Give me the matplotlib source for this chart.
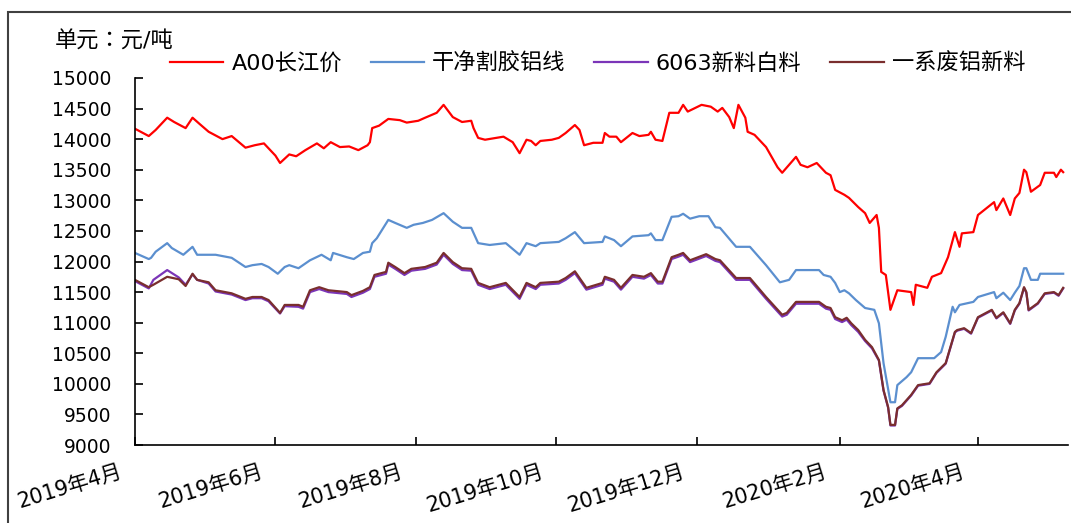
import pandas as pd
import matplotlib.pyplot as plt
from matplotlib.patches import Rectangle
from matplotlib.transforms import ScaledTranslation

plt.rcParams['font.family'] = ['DejaVu Sans', 'Noto Sans CJK SC']

# 数据：日期偏移（天，自2019-04-01起）与价格（元/吨）
start = "2019-04-01"

a00_days = [0, 6, 9, 14, 17, 22, 25, 28, 32, 38, 42, 48, 52, 56, 61, 63, 67, 70, 74, 79,
            82, 85, 89, 93, 97, 101, 102, 103, 106, 110, 115, 118, 123, 126, 131, 134, 138, 142, 146, 147,
            149, 152, 160, 164, 167, 170, 172, 174, 176, 181, 184, 187, 191, 193, 195, 199, 203, 204, 206, 209,
            211, 216, 219, 223, 224, 226, 229, 232, 236, 238, 240, 246, 250, 253, 255, 258, 260, 262, 265, 266,
            269, 274, 279, 281, 284, 287, 289, 292, 296, 300, 302, 304, 308, 310, 314, 317, 319, 322, 323, 324,
            326, 328, 331, 337, 338, 339, 344, 346, 350, 353, 356, 358, 359, 364, 366, 373, 374, 377, 380, 382,
            384, 386, 387, 389, 393, 395, 399, 400, 402, 403]
a00 = [14170, 14050, 14150, 14350, 14280, 14180, 14350, 14250, 14120, 14000, 14050, 13860, 13900, 13930, 13730, 13610, 13750, 13720, 13820, 13930,
       13850, 13950, 13870, 13880, 13820, 13900, 13950, 14180, 14220, 14330, 14310, 14270, 14300, 14350, 14430, 14560, 14360, 14280, 14300, 14180,
       14020, 13990, 14040, 13950, 13770, 13990, 13970, 13900, 13970, 13990, 14020, 14100, 14230, 14150, 13900, 13940, 13940, 14100, 14040, 14040,
       13950, 14100, 14050, 14070, 14120, 13990, 13970, 14430, 14430, 14560, 14450, 14560, 14530, 14450, 14510, 14360, 14180, 14560, 14350, 14120,
       14070, 13870, 13540, 13450, 13580, 13710, 13580, 13540, 13610, 13450, 13410, 13170, 13090, 13040, 12890, 12790, 12630, 12760, 12550, 11830,
       11780, 11210, 11530, 11500, 11290, 11620, 11570, 11750, 11810, 12070, 12480, 12240, 12460, 12480, 12760, 12970, 12840, 13030, 12760, 13030,
       13120, 13500, 13460, 13140, 13250, 13450, 13450, 13380, 13500, 13460]

wire_days = [0, 6, 7, 9, 14, 16, 21, 25, 27, 35, 42, 48, 51, 55, 58, 62, 65, 67, 71, 76,
             81, 85, 86, 92, 95, 99, 102, 103, 105, 110, 113, 118, 121, 125, 129, 134, 138, 142, 146, 149,
             154, 161, 167, 170, 174, 176, 184, 187, 191, 195, 203, 204, 208, 211, 216, 223, 224, 226, 229, 233,
             236, 238, 241, 245, 249, 252, 254, 261, 267, 274, 280, 284, 287, 297, 299, 302, 304, 306, 308, 310,
             313, 317, 321, 323, 325, 328, 330, 331, 335, 337, 340, 347, 350, 352, 355, 356, 358, 364, 366, 373,
             374, 377, 380, 382, 384, 386, 387, 389, 392, 393, 403]
wire = [12140, 12040, 12060, 12160, 12300, 12220, 12110, 12240, 12110, 12110, 12060, 11910, 11940, 11960, 11910, 11800, 11910, 11940, 11890, 12020,
        12110, 12020, 12140, 12070, 12040, 12140, 12160, 12300, 12380, 12680, 12630, 12550, 12600, 12630, 12680, 12790, 12650, 12550, 12550, 12300,
        12270, 12300, 12110, 12300, 12250, 12300, 12320, 12380, 12480, 12300, 12320, 12410, 12350, 12250, 12410, 12430, 12460, 12350, 12350, 12730,
        12740, 12780, 12700, 12740, 12740, 12560, 12550, 12240, 12240, 11940, 11660, 11700, 11860, 11860, 11780, 11750, 11650, 11500, 11530, 11480,
        11370, 11240, 11210, 10990, 10340, 9700, 9700, 9980, 10110, 10190, 10420, 10420, 10520, 10770, 11260, 11170, 11290, 11340, 11420, 11500,
        11400, 11490, 11370, 11490, 11600, 11890, 11890, 11700, 11700, 11800, 11800]

scrap_days = [0, 6, 8, 14, 19, 22, 25, 27, 32, 35, 42, 48, 51, 55, 58, 63, 65, 71, 73, 76,
              80, 84, 92, 94, 99, 102, 104, 109, 110, 113, 117, 120, 126, 131, 134, 138, 142, 146, 149, 154,
              161, 167, 170, 174, 176, 184, 187, 191, 196, 203, 204, 208, 211, 216, 221, 224, 227, 229, 233, 236,
              238, 241, 248, 252, 254, 261, 267, 274, 281, 283, 287, 297, 300, 302, 304, 307, 309, 311, 314, 317,
              320, 323, 325, 327, 328, 330, 331, 333, 337, 340, 345, 348, 352, 356, 357, 360, 363, 366, 372, 374,
              377, 380, 382, 384, 386, 387, 388, 392, 395, 399, 401, 403]
al6063 = [11680, 11560, 11700, 11860, 11740, 11620, 11790, 11700, 11640, 11510, 11460, 11370, 11400, 11400, 11350, 11150, 11270, 11260, 11230, 11500,
          11550, 11500, 11470, 11420, 11490, 11550, 11750, 11800, 11950, 11880, 11780, 11850, 11880, 11950, 12110, 11960, 11860, 11850, 11620, 11550,
          11620, 11390, 11620, 11550, 11620, 11640, 11700, 11810, 11540, 11620, 11720, 11670, 11540, 11750, 11720, 11780, 11640, 11640, 12040, 12080,
          12110, 11990, 12090, 12010, 11990, 11700, 11700, 11390, 11100, 11130, 11310, 11310, 11230, 11210, 11060, 11010, 11050, 10960, 10850, 10700,
          10580, 10380, 9890, 9610, 9320, 9320, 9590, 9640, 9810, 9970, 10000, 10180, 10330, 10840, 10870, 10900, 10820, 11080, 11200, 11070,
          11160, 10980, 11200, 11310, 11570, 11490, 11200, 11310, 11470, 11490, 11440, 11560]
scrap = [11700, 11580, 11620, 11750, 11710, 11600, 11800, 11700, 11660, 11530, 11480, 11390, 11420, 11420, 11370, 11160, 11290, 11290, 11260, 11530,
         11580, 11530, 11500, 11450, 11520, 11580, 11780, 11830, 11980, 11910, 11810, 11880, 11910, 11980, 12140, 11990, 11890, 11880, 11650, 11580,
         11650, 11420, 11650, 11580, 11650, 11670, 11730, 11840, 11570, 11650, 11750, 11700, 11570, 11780, 11750, 11810, 11670, 11670, 12070, 12110,
         12140, 12020, 12120, 12040, 12020, 11730, 11730, 11420, 11130, 11160, 11340, 11340, 11260, 11240, 11090, 11040, 11080, 10990, 10880, 10720,
         10600, 10390, 9900, 9620, 9330, 9330, 9600, 9650, 9820, 9980, 10010, 10190, 10340, 10850, 10880, 10910, 10830, 11090, 11210, 11080,
         11170, 10990, 11210, 11320, 11580, 11500, 11210, 11320, 11480, 11500, 11450, 11570]

labels = ["A00长江价", "干净割胶铝线", "6063新料白料", "一系废铝新料"]
colors = ["#FF0000", "#5B8FCF", "#7B35B8", "#7A2E2E"]
tick_dates = ["2019-04-01", "2019-06-01", "2019-08-01", "2019-10-01", "2019-12-01", "2020-02-01", "2020-04-01"]
tick_labels = ["2019年4月", "2019年6月", "2019年8月", "2019年10月", "2019年12月", "2020年2月", "2020年4月"]


def to_dates(days):
    return pd.Timestamp(start) + pd.to_timedelta(days, unit="D")


fig = plt.figure(figsize=(10.71, 5.23), dpi=100)
ax = fig.add_axes([0.126, 0.149, 0.871, 0.702])

series = [(a00_days, a00), (wire_days, wire), (scrap_days, al6063), (scrap_days, scrap)]
for (d, v), lab, c in zip(series, labels, colors):
    ax.plot(to_dates(d), v, color=c, lw=1.6, label=lab)

ax.set_ylim(9000, 15000)
ax.set_yticks(range(9000, 15001, 500))
ax.set_xlim(pd.Timestamp("2019-04-01"), pd.Timestamp("2020-05-10"))
ticks = pd.to_datetime(tick_dates)
ax.set_xticks(ticks)
ax.set_xticklabels([])

# 倾斜的日期标签
lab_trans = ax.get_xaxis_transform() + ScaledTranslation(-16 / 100, -16 / 100, fig.dpi_scale_trans)
for d, lab in zip(ticks, tick_labels):
    ax.text(d, 0, lab, transform=lab_trans, rotation=17, rotation_mode="anchor",
            ha="right", va="top", fontsize=15)

ax.tick_params(axis="both", direction="in", length=6, width=1.2, colors="black")
ax.tick_params(axis="y", pad=17, labelsize=13.5)
for s in ["top", "right"]:
    ax.spines[s].set_visible(False)
for s in ["left", "bottom"]:
    ax.spines[s].set_linewidth(1.2)

fig.text(0.051, 0.922, "单元：元/吨", fontsize=16, va="center", family=["DejaVu Sans", "Noto Sans CJK TC"])
fig.legend(loc="center", bbox_to_anchor=(0.558, 0.879), ncol=4, frameon=False, fontsize=16,
           handlelength=2.4, handletextpad=0.36, columnspacing=1.3)

fig.patches.append(Rectangle((8 / 1071, -0.5), 2, 1.5 - 12 / 523, transform=fig.transFigure,
                             fill=False, lw=1.5, ec="#404040"))

plt.savefig("out.png", dpi=100)
